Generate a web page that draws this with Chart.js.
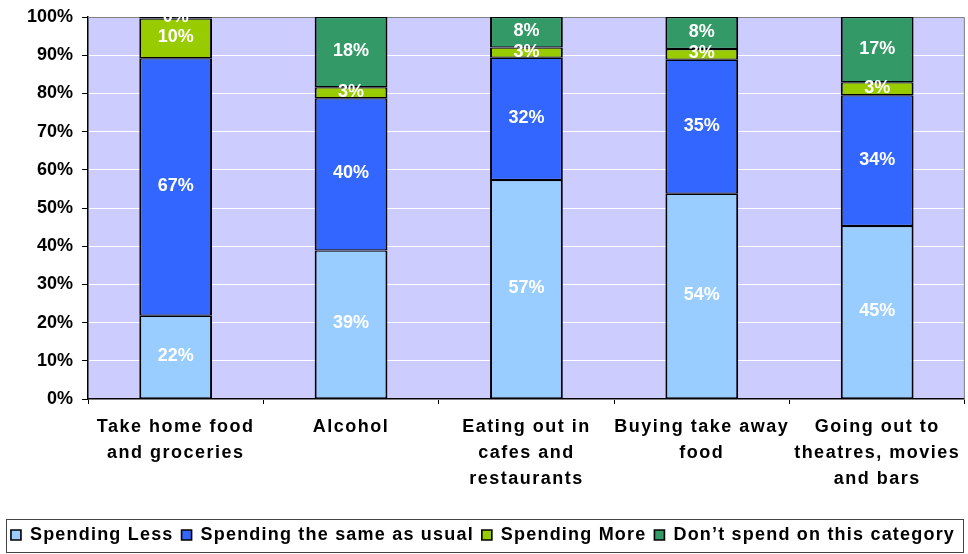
<!DOCTYPE html>
<html>
<head>
<meta charset="utf-8">
<script src="https://cdn.jsdelivr.net/npm/chart.js@4.4.1/dist/chart.umd.min.js"></script>
<style>
  body { margin: 0; background: #fff; }
</style>
</head>
<body>
<canvas id="spendChart" width="968" height="554"></canvas>
<script>
const categories = [
  ['Take home food', 'and groceries'],
  ['Alcohol'],
  ['Eating out in', 'cafes and', 'restaurants'],
  ['Buying take away', 'food'],
  ['Going out to', 'theatres, movies', 'and bars']
];
const seriesNames = ['Spending Less', 'Spending the same as usual', 'Spending More', 'Don\u2019t spend on this category'];
const spendingLess = [21.8, 38.9, 57.3, 53.7, 45.3];
const spendingSame = [67.4, 39.8, 32.0, 35.1, 34.2];
const spendingMore = [10.4, 2.9, 2.7, 2.8, 3.4];
const dontSpend = [0.4, 18.4, 8.0, 8.4, 17.1];

const FONT = "'Liberation Sans', Arial, sans-serif";
const colors = ['#99ccff', '#3366ff', '#99cc00', '#339966'];

// wraps a draw method so its text gets Excel-like letter spacing
function spaced(obj, fn, spacing) {
  const orig = obj[fn];
  obj[fn] = function (...args) {
    this.ctx.letterSpacing = spacing;
    orig.apply(this, args);
    this.ctx.letterSpacing = '0px';
  };
  obj['_spaced_' + fn] = true;
}

const LEGEND_SPACING = '1.2px';

const letterSpacing = {
  id: 'letterSpacing',
  beforeLayout(chart) { chart.ctx.letterSpacing = LEGEND_SPACING; },
  afterLayout(chart) { chart.ctx.letterSpacing = '0px'; },
  beforeDraw(chart) {
    const x = chart.scales.x;
    if (!x._spaced_drawLabels) spaced(x, 'drawLabels', '1.5px');
    if (!chart.legend._spaced_draw) spaced(chart.legend, 'draw', LEGEND_SPACING);
  }
};

const plotBackground = {
  id: 'plotBackground',
  beforeDraw(chart) {
    const { ctx, chartArea: { left, top, width, height } } = chart;
    ctx.save();
    ctx.fillStyle = '#ccccff';
    ctx.fillRect(left, top, width, height);
    ctx.restore();
  },
  beforeDatasetsDraw(chart) {
    const { ctx, chartArea: { left, top, right, bottom } } = chart;
    ctx.save();
    ctx.strokeStyle = '#808080';
    ctx.lineWidth = 1;
    ctx.beginPath();
    ctx.moveTo(left, top + 0.5);
    ctx.lineTo(right - 0.5, top + 0.5);
    ctx.lineTo(right - 0.5, bottom);
    ctx.stroke();
    ctx.restore();
  }
};

const segmentLabels = {
  id: 'segmentLabels',
  afterDatasetsDraw(chart) {
    const { ctx } = chart;
    ctx.save();
    ctx.letterSpacing = '0px';
    ctx.fillStyle = '#ffffff';
    ctx.font = 'bold 18px ' + FONT;
    ctx.textAlign = 'center';
    ctx.textBaseline = 'middle';
    chart.data.datasets.forEach((ds, i) => {
      chart.getDatasetMeta(i).data.forEach((bar, j) => {
        const { x, y, base } = bar.getProps(['x', 'y', 'base'], true);
        ctx.fillText(Math.round(ds.data[j]) + '%', x, (y + base) / 2 - 1);
      });
    });
    ctx.restore();
  }
};

const legendFrame = {
  id: 'legendFrame',
  afterDraw(chart) {
    const { ctx, legend } = chart;
    const boxes = legend.legendHitBoxes;
    const first = boxes[0];
    const last = boxes[boxes.length - 1];
    const l = Math.round(first.left - 5);
    const r = Math.round(last.left + last.width + 8);
    ctx.save();
    ctx.strokeStyle = '#444';
    ctx.lineWidth = 1;
    ctx.strokeRect(l + 0.5, legend.top + 1.5, r - l, legend.bottom - legend.top - 3);
    ctx.restore();
  }
};

const seriesData = [spendingLess, spendingSame, spendingMore, dontSpend];

new Chart(document.getElementById('spendChart'), {
  type: 'bar',
  data: {
    labels: categories,
    datasets: seriesData.map((values, i) => ({
      label: seriesNames[i],
      data: values,
      backgroundColor: colors[i],
      borderColor: '#000',
      borderWidth: { top: 1.25, bottom: 1.25, left: 2, right: 2 },
      borderSkipped: false,
      barPercentage: 0.415,
      categoryPercentage: 1
    }))
  },
  options: {
    responsive: false,
    animation: false,
    layout: { padding: { top: 17, right: 2, left: 0, bottom: 0 } },
    scales: {
      x: {
        stacked: true,
        grid: { drawOnChartArea: false, color: '#000', tickLength: 5 },
        border: { color: '#000', width: 1.5 },
        ticks: {
          color: '#000',
          padding: 10,
          maxRotation: 0,
          autoSkip: false,
          font: { family: FONT, size: 18, weight: 'bold', lineHeight: 1.45 }
        },
        afterFit(scale) { scale.height = 119; }
      },
      y: {
        stacked: true,
        min: 0,
        max: 100,
        ticks: {
          stepSize: 10,
          color: '#000',
          padding: 9,
          font: { family: FONT, size: 18, weight: 'bold', lineHeight: 0.85 },
          callback: v => v + '%'
        },
        grid: { color: '#ffffff', tickColor: '#000', tickLength: 6 },
        border: { color: '#000', width: 1.5 },
        afterFit(scale) { scale.width = 88; }
      }
    },
    plugins: {
      legend: {
        position: 'bottom',
        labels: {
          boxWidth: 10,
          boxHeight: 10,
          padding: 8,
          color: '#000',
          font: { family: FONT, size: 18, weight: 'bold' }
        }
      },
      tooltip: { enabled: false }
    }
  },
  plugins: [letterSpacing, plotBackground, segmentLabels, legendFrame]
});
</script>
</body>
</html>
